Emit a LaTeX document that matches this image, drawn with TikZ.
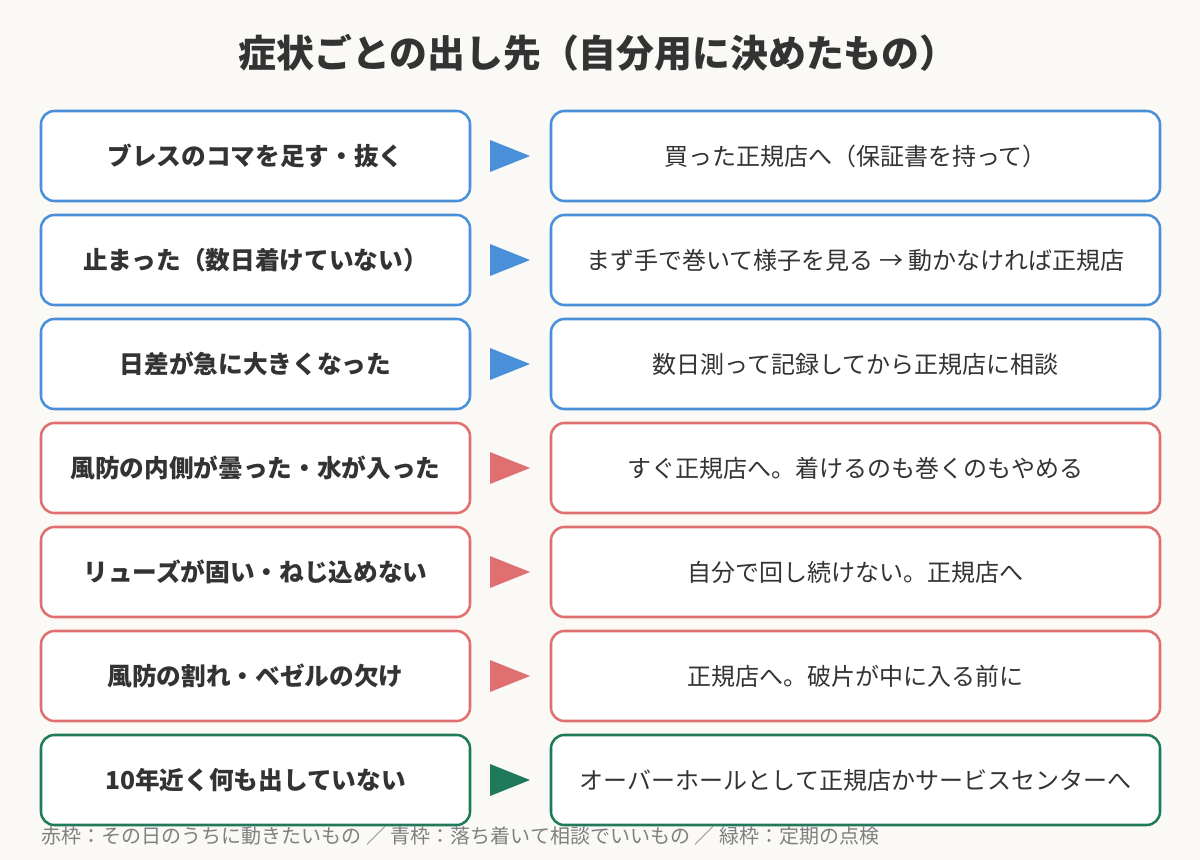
\documentclass[tikz,border=0pt]{standalone}
\usepackage{fontspec}
\setmainfont{Noto Sans CJK JP}
\begin{document}
\begin{tikzpicture}[x=0.75pt,y=-0.75pt,
  box/.style={draw=#1,line width=1.9pt,rounded corners=10pt,fill=white,minimum width=429*0.75pt,minimum height=90*0.75pt,inner sep=0pt},
  rbox/.style={draw=#1,line width=1.9pt,rounded corners=10pt,fill=white,minimum width=609*0.75pt,minimum height=90*0.75pt,inner sep=0pt},
  tri/.style={fill=#1,draw=none}]
\definecolor{bg}{HTML}{FAF9F6}
\definecolor{cb}{HTML}{4A90D9}
\definecolor{cr}{HTML}{E07070}
\definecolor{cg}{HTML}{1F7A5C}
\definecolor{tx}{HTML}{333333}
\fill[bg] (0,0) rectangle (1200,860);
\node[font=\bfseries\fontsize{28.4}{32}\selectfont,text=tx] (title) at (598,53) {症状ごとの出し先（自分用に決めたもの）};
\foreach \i/\c/\l/\r in {
0/cb/ブレスのコマを足す・抜く/買った正規店へ（保証書を持って）,
1/cb/止まった（数日着けていない）/まず手で巻いて様子を見る → 動かなければ正規店,
2/cb/日差が急に大きくなった/数日測って記録してから正規店に相談,
3/cr/風防の内側が曇った・水が入った/すぐ正規店へ。着けるのも巻くのもやめる,
4/cr/リューズが固い・ねじ込めない/自分で回し続けない。正規店へ,
5/cr/風防の割れ・ベゼルの欠け/正規店へ。破片が中に入る前に,
6/cg/10年近く何も出していない/オーバーホールとして正規店かサービスセンターへ}{
  \pgfmathsetmacro\yy{156+104*\i}
  \node[box=\c,font=\bfseries\fontsize{18.5}{22}\selectfont,text=tx] (L\i) at (255.5,\yy) {\l};
  \node[rbox=\c,font=\fontsize{18}{22}\selectfont,text=tx] (R\i) at (855.5,\yy) {\r};
  \fill[\c] (490,\yy-16) -- (530,\yy) -- (490,\yy+16) -- cycle;
}
\node[anchor=west,font=\fontsize{15}{18}\selectfont,text=gray] (foot) at (37,836) {赤枠：その日のうちに動きたいもの ／ 青枠：落ち着いて相談でいいもの ／ 緑枠：定期の点検};
\end{tikzpicture}
\end{document}
